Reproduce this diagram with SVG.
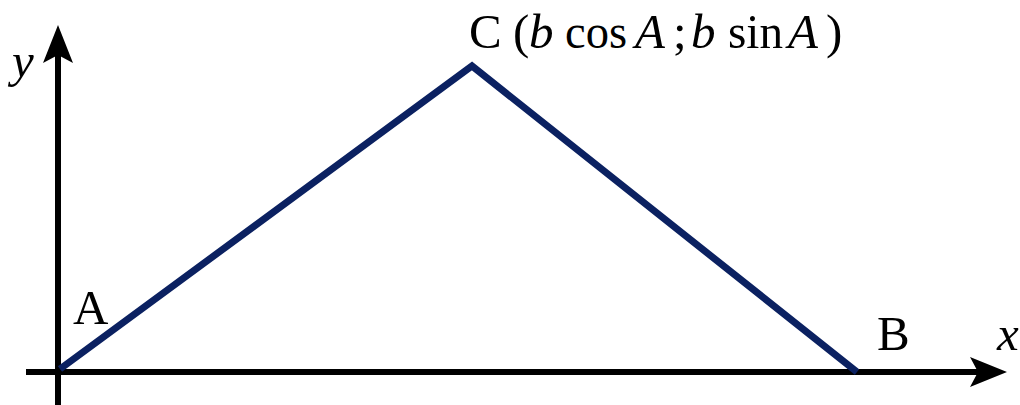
<svg xmlns="http://www.w3.org/2000/svg" width="1020" height="405" viewBox="0 0 1020 405">
<style>
.lbl{font-family:"Liberation Serif","Times New Roman",serif;font-size:49px;fill:#000}
.it{font-style:italic}
.axis{stroke:#000;stroke-width:6;fill:none}
.edge{stroke:#0b2161;stroke-width:7;fill:none;stroke-linejoin:miter}
.head{fill:#000;stroke:none}
</style>
<rect width="1020" height="405" fill="#fff"/>
<g id="axes">
<line class="axis" x1="58" y1="405" x2="58" y2="50"/>
<path class="head" d="M58,25 L73,63 L58,55 L43,63 Z"/>
<line class="axis" x1="26" y1="372" x2="985" y2="372"/>
<path class="head" d="M1007,372 L970,387 L978,372 L970,357 Z"/>
<text class="lbl it" x="12" y="77">y</text>
<text class="lbl it" x="997" y="350">x</text>
</g>
<g id="connectors">
<polyline class="edge" points="60,369 472,66 857,372"/>
</g>
<g id="node-A"><text class="lbl" x="73" y="324">A</text></g>
<g id="node-B"><text class="lbl" x="877" y="350">B</text></g>
<g id="node-C">
<text class="lbl" y="48"><tspan x="469">C</tspan><tspan x="513">(</tspan><tspan x="529" class="it">b</tspan><tspan x="565" textLength="62" lengthAdjust="spacingAndGlyphs">cos</tspan><tspan x="635" class="it">A</tspan><tspan x="673">;</tspan><tspan x="691" class="it">b</tspan><tspan x="728" textLength="55" lengthAdjust="spacingAndGlyphs">sin</tspan><tspan x="788" class="it">A</tspan><tspan x="826">)</tspan></text>
</g>
</svg>
